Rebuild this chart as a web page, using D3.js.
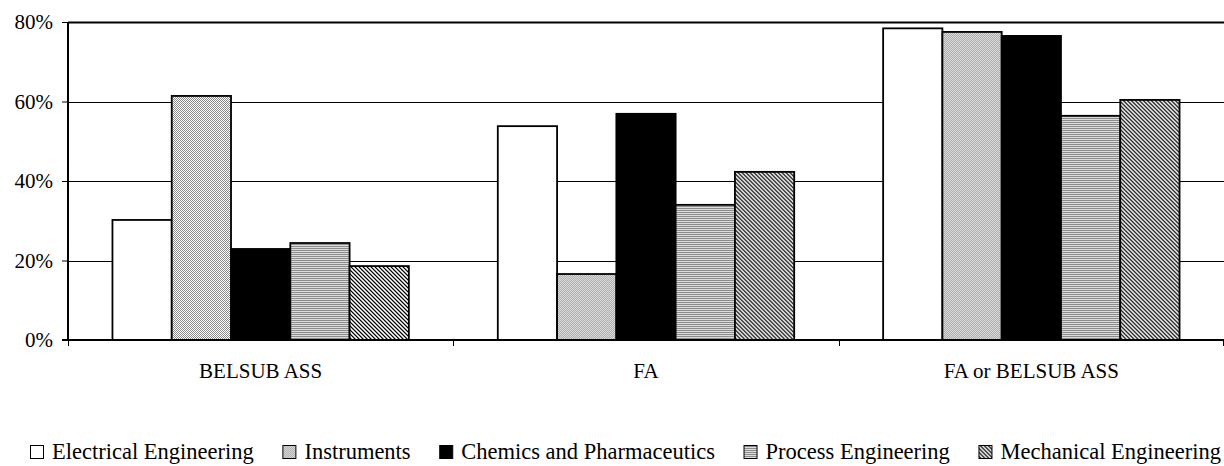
<!DOCTYPE html>
<html><head><meta charset="utf-8">
<script src="https://cdn.jsdelivr.net/npm/d3@7"></script>
<style>
html,body{margin:0;padding:0;background:#fff;}
svg{display:block;}
text{font-family:"Liberation Serif","Times New Roman",serif;fill:#000;}
</style></head>
<body>
<svg id="chart" width="1224" height="466"></svg>
<script>
const categories = ["BELSUB ASS", "FA", "FA or BELSUB ASS"];
const seriesNames = ["Electrical Engineering", "Instruments", "Chemics and Pharmaceutics", "Process Engineering", "Mechanical Engineering"];
const electrical = [30.2, 53.8, 78.4];
const instruments = [61.4, 16.6, 77.5];
const chemics = [22.9, 56.9, 76.5];
const processEng = [24.4, 34.0, 56.4];
const mechanical = [18.6, 42.3, 60.4];
const yTicks = [0, 20, 40, 60, 80];
const yTickLabels = ["0%", "20%", "40%", "60%", "80%"];

(function () {
const seriesValues = [electrical, instruments, chemics, processEng, mechanical];
const fills = ["#ffffff", "url(#pInstr)", "#000000", "url(#pProc)", "url(#pMech)"];

const svg = d3.select("#chart");
const defs = svg.append("defs");

function pixPattern(id, size, fn) {
  const p = defs.append("pattern").attr("id", id).attr("patternUnits", "userSpaceOnUse")
    .attr("width", size).attr("height", size);
  for (let yy = 0; yy < size; yy++) for (let xx = 0; xx < size; xx++) {
    p.append("rect").attr("x", xx).attr("y", yy).attr("width", 1).attr("height", 1)
      .attr("fill", fn(xx, yy)).attr("shape-rendering", "crispEdges");
  }
}
pixPattern("pInstr", 2, (a, b) => ((a + b) % 2 === 0 ? "#8a8a8a" : "#ffffff"));
pixPattern("pProc", 2, (a, b) => (b % 2 === 0 ? "#8c8c8c" : "#dcdcdc"));
pixPattern("pMech", 4, (a, b) => {
  const k = ((a - b) % 4 + 4) % 4;
  return ["#000000", "#8c8c8c", "#ffffff", "#b4b4b4"][k];
});

const pLeft = 68, pRight = 1224, pTop = 22, pBottom = 340;
const y = d3.scaleLinear().domain([0, 80]).range([pBottom, pTop]);
const x0 = d3.scaleBand().domain(categories).range([pLeft, pRight]).paddingInner(0).paddingOuter(0);
const x1 = d3.scaleBand().domain(seriesNames).range([0, x0.bandwidth()]).paddingInner(0).paddingOuter(0.75);

// gridlines
svg.append("g").selectAll("line").data(yTicks.filter(t => t > 0)).join("line")
  .attr("x1", pLeft).attr("x2", pRight)
  .attr("y1", d => Math.round(y(d)) + 0.5).attr("y2", d => Math.round(y(d)) + 0.5)
  .attr("stroke", "#000").attr("stroke-width", d => d === 80 ? 2 : 1);

// bars
const groups = svg.append("g").selectAll("g").data(categories).join("g")
  .attr("transform", d => `translate(${x0(d)},0)`);
groups.selectAll("rect").data((c, ci) => seriesNames.map((s, si) => ({ s, si, v: seriesValues[si][ci] })))
  .join("rect")
  .attr("x", d => x1(d.s)).attr("width", x1.bandwidth())
  .attr("y", d => y(d.v)).attr("height", d => pBottom - y(d.v))
  .attr("fill", d => fills[d.si]).attr("stroke", "#000").attr("stroke-width", 1.8);

// y axis
const yAxis = d3.axisLeft(y).tickValues(yTicks).tickFormat((d, i) => yTickLabels[i]).tickSize(6).tickPadding(9);
const gy = svg.append("g").attr("transform", `translate(${pLeft},0)`).call(yAxis);
gy.select(".domain").attr("stroke", "#000").attr("stroke-width", 2).attr("d", `M0,${pTop}V${pBottom}`);
gy.selectAll(".tick line").attr("stroke", "#000");
gy.selectAll("text").style("font-family", '"Liberation Serif", serif').style("font-size", "21px").attr("fill", "#000");

// x axis
svg.append("line").attr("x1", pLeft - 6).attr("x2", pRight).attr("y1", pBottom).attr("y2", pBottom)
  .attr("stroke", "#000").attr("stroke-width", 2);
const boundaries = categories.map(c => x0(c)).concat([pRight - 1]);
svg.append("g").selectAll("line").data(boundaries).join("line")
  .attr("x1", d => Math.round(d) + 0.5).attr("x2", d => Math.round(d) + 0.5)
  .attr("y1", pBottom).attr("y2", pBottom + 6).attr("stroke", "#000").attr("stroke-width", 1);
svg.append("g").selectAll("text").data(categories).join("text")
  .attr("x", d => x0(d) + x0.bandwidth() / 2).attr("y", 378)
  .attr("text-anchor", "middle").style("font-size", "21px").text(d => d);

// legend: items laid out between legStart and legEnd
const legStart = 30, legEnd = 1221, sw = 13, swGap = 9;
const leg = svg.append("g");
const items = seriesNames.map((name, i) => {
  const g = leg.append("g");
  g.append("rect").attr("x", 0.5).attr("y", 445.5).attr("width", sw).attr("height", sw)
    .attr("fill", fills[i]).attr("stroke", "#000").attr("stroke-width", 1);
  const t = g.append("text").attr("x", sw + swGap).attr("y", 459).style("font-size", "22.5px").text(name);
  return { g, w: sw + swGap + t.node().getComputedTextLength() };
});
const totalW = d3.sum(items, d => d.w);
const gap = (legEnd - legStart - totalW) / (items.length - 1);
let lx = legStart;
items.forEach(it => { it.g.attr("transform", `translate(${lx},0)`); lx += it.w + gap; });
})();
</script>
</body></html>
